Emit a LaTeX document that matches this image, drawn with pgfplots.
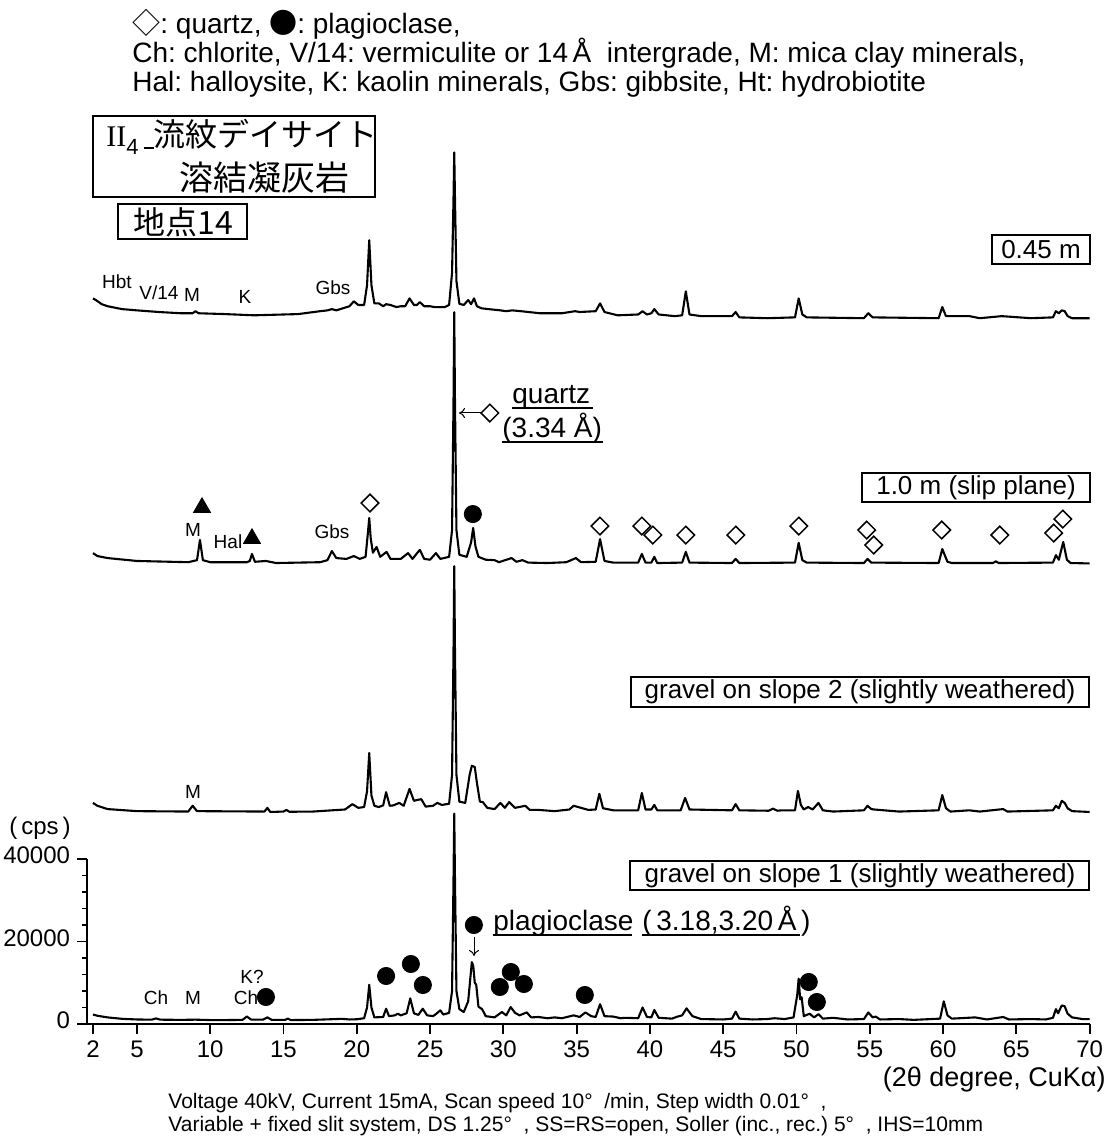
\documentclass[border=0pt]{standalone}
\usepackage{pgfplots}
\pgfplotsset{compat=1.18}
\usepackage{pgfplotstable}
\usepackage{fontspec}
\setmainfont{Liberation Sans}
\newfontfamily\jp{Noto Sans CJK JP}
\newfontfamily\serif{Liberation Serif}
\usetikzlibrary{arrows.meta}
\frenchspacing

% gravel on slope 1 (absolute cps)
\pgfplotstableread{
x y
2.0 2300
2.3 2000
3.0 1600
4.0 1250
5.0 1100
6.0 1050
6.3 1350
6.6 1050
8.0 1000
9.0 1050
10.0 950
11.0 950
12.2 1000
12.5 1800
12.8 1050
13.6 1050
13.9 1600
14.2 1000
15.1 1000
15.3 1300
15.5 950
17.0 1000
19.0 1250
19.5 1100
20.0 1150
20.5 1400
20.7 4000
20.85 9500
21.0 4000
21.2 1600
21.8 1700
22.0 3700
22.2 1900
22.6 2100
22.8 2500
23.0 2100
23.4 2600
23.65 6200
23.9 2600
24.2 2200
24.5 3700
24.8 2100
25.2 1900
25.4 2400
25.7 3300
25.9 2300
26.3 2700
26.5 8000
26.6 35000
26.65 51000
26.7 35000
26.8 8000
27.0 3600
27.3 2900
27.6 5500
27.85 15000
27.95 14000
28.05 10000
28.15 9500
28.3 4200
28.55 3600
28.8 1900
29.4 1600
29.9 2900
30.2 2100
30.5 4100
30.8 2700
31.1 2100
31.6 2800
31.9 1600
32.4 1700
33.0 1400
33.5 1600
34.0 1400
34.8 2100
35.2 1700
35.6 2800
36.0 1900
36.3 1700
36.6 4800
36.9 1900
37.5 1800
38.0 1400
38.3 1500
39.2 1400
39.5 4000
39.8 1700
40.1 1600
40.3 3400
40.6 1500
41.5 1300
41.8 1700
42.2 2100
42.5 3800
42.9 1900
43.5 1200
45.0 1100
45.6 1300
45.85 3000
46.1 1300
47.0 1100
48.0 1200
48.5 1400
49.2 1200
49.8 1600
50.05 7000
50.15 11000
50.25 6000
50.35 6500
50.5 1900
50.9 2500
51.2 1600
51.5 2400
51.8 1300
52.5 1500
53.5 1100
54.6 1200
54.9 2800
55.2 1600
55.4 1800
55.7 1100
57.0 1200
58.0 1000
59.8 1300
60.05 5500
60.3 2100
60.6 1300
62.2 1600
63.0 1100
64.1 1700
64.5 1100
66.0 1200
67.0 1100
67.5 1500
67.7 3600
67.85 2600
68.1 4500
68.3 4300
68.5 2500
68.8 1600
69.5 1200
70.0 1200
}\slopeone

% gravel on slope 2 (raw cps, drawn with offset)
\pgfplotstableread{
x y
2.0 3200
2.3 2500
3.0 1700
5.0 1200
8.5 1100
8.8 2500
9.1 1200
13.7 1100
13.9 2000
14.1 1000
15.0 1100
15.2 1500
15.4 1050
17.0 1100
19.2 1600
19.7 2900
20.1 2000
20.5 2200
20.7 6000
20.85 15300
21.0 5000
21.2 2500
21.5 2200
21.8 2600
22.0 5800
22.25 2500
22.5 2600
22.9 3200
23.2 2500
23.6 6600
23.9 3700
24.1 3900
24.4 4100
24.7 2300
25.2 2500
25.5 3200
25.8 2700
26.3 3000
26.5 10000
26.6 40000
26.65 60600
26.7 40000
26.8 10000
27.0 3500
27.4 3200
27.7 10000
27.85 12200
28.05 11900
28.2 8000
28.4 3500
28.6 3400
28.9 2000
29.4 1700
29.8 3200
30.1 2000
30.4 3400
30.8 2000
31.5 2500
31.8 1500
32.4 1500
33.5 1200
34.5 1600
34.8 2500
35.3 2000
35.8 1500
36.3 1600
36.55 5400
36.8 1900
37.5 1400
39.2 1400
39.45 5600
39.7 1600
40.1 1600
40.3 2700
40.5 1400
42.1 1400
42.4 4400
42.7 1600
45.6 1400
45.85 2900
46.1 1400
48.1 1300
48.4 1800
48.7 1300
49.0 1400
49.9 1400
50.1 6100
50.3 2700
50.5 1600
50.8 2200
51.1 1600
51.5 3200
51.8 1400
52.5 1100
54.6 1400
54.85 2500
55.1 1700
55.3 1600
57.0 1100
59.7 1400
59.95 5100
60.2 1900
60.5 1100
61.8 1400
62.5 1100
64.1 1700
64.4 1100
67.5 1400
67.7 2500
67.9 1900
68.1 3700
68.3 3200
68.5 1900
68.8 1200
70.0 1000
}\slopetwo

% 1.0 m (slip plane)
\pgfplotstableread{
x y
2.0 3400
2.3 2700
3.0 2200
5.0 1500
8.5 1200
9.1 1700
9.3 6600
9.5 1700
10.0 1200
12.5 1200
12.7 1500
12.85 3200
13.05 1300
13.8 1500
14.5 1000
17.5 1200
18.0 1700
18.3 3900
18.6 2200
19.3 2000
19.8 2700
20.2 2000
20.6 2500
20.75 8000
20.85 11900
20.95 7000
21.1 3500
21.35 4900
21.6 2500
22.03 3700
22.3 2000
23.0 2000
23.5 3400
23.8 2000
24.3 4200
24.6 2000
25.0 1800
25.4 3400
25.7 2000
26.3 2500
26.5 9000
26.6 40000
26.65 61800
26.7 40000
26.8 9000
27.0 3000
27.5 2500
27.8 6000
27.94 9500
28.1 5000
28.3 2500
28.8 1800
29.4 1700
29.7 1200
30.56 2200
30.9 1300
31.3 1700
31.7 1100
33.0 1000
34.3 1200
34.95 2200
35.3 1200
36.3 1300
36.6 6800
36.9 1500
37.5 1100
39.2 1100
39.45 3200
39.7 1100
40.1 1100
40.3 2500
40.5 1000
42.2 1100
42.45 3700
42.7 1100
45.6 1000
45.85 2000
46.1 1000
49.9 1100
50.15 5900
50.4 1700
50.7 1100
54.6 1000
54.85 2000
55.1 1100
59.7 1000
59.95 4400
60.3 1300
60.6 1000
63.4 1000
63.6 1400
63.8 1000
67.5 1100
67.7 2900
67.9 1800
68.2 6100
68.45 1800
68.7 1000
70.0 900
}\slipplane

% 0.45 m
\pgfplotstableread{
x y
2.0 5800
2.2 5400
2.6 4400
3.0 3900
4.0 3200
5.0 2900
6.5 2500
8.0 2200
8.8 2200
9.0 2700
9.2 2200
11.0 2000
13.0 1700
16.0 2000
17.5 2700
18.0 2900
18.3 3200
18.6 2900
19.5 3900
19.8 5100
20.1 4200
20.5 4200
20.7 9000
20.85 19900
21.0 9000
21.2 4600
21.5 4600
21.8 3900
22.0 4400
22.3 4200
22.7 3700
23.0 3900
23.3 3900
23.6 5800
23.9 4200
24.1 4200
24.3 4900
24.6 3900
25.0 3900
25.3 3700
26.0 3700
26.3 4200
26.5 12000
26.6 30000
26.65 41200
26.7 30000
26.8 10000
27.0 4500
27.3 4200
27.6 5400
27.8 4400
28.0 5800
28.2 3900
28.5 3400
29.0 3200
29.8 2900
30.2 2700
30.6 2900
31.2 2700
32.5 2200
34.0 2200
34.9 2700
35.2 2500
36.3 2700
36.6 4600
36.9 2500
37.8 1700
39.2 1900
39.5 2700
39.8 1900
40.1 2200
40.3 3200
40.6 1900
41.7 1500
42.2 1700
42.45 7500
42.7 1900
43.5 1500
45.6 1500
45.85 2500
46.1 1200
48.0 1000
49.9 1200
50.15 5800
50.4 1900
50.7 1200
54.6 1000
54.9 2200
55.2 1200
59.7 1000
59.95 3700
60.2 1500
61.8 1500
62.5 1000
64.0 1500
66.0 1000
67.5 1200
67.7 2700
67.9 2200
68.1 2900
68.3 2700
68.5 1500
68.8 1000
70.0 1000
}\fortyfive

\begin{document}
\begin{tikzpicture}
\useasboundingbox (0,0) rectangle (556pt,570pt);
\begin{axis}[
  at={(43.55pt,58pt)}, anchor=south west,
  scale only axis, width=501.25pt, height=82.5pt,
  xmin=1.6, xmax=70, ymin=0, ymax=40000,
  axis x line*=bottom, axis y line*=left,
  axis line style={line width=1pt, black},
  clip=false,
  xtick={2,5,10,...,70},
  ytick={0,20000,40000},
  minor y tick num=4,
  tick align=outside,
  major tick length=5pt, minor tick length=2.4pt,
  every tick/.style={line width=0.9pt, black},
  scaled y ticks=false,
  typeset ticklabels with strut,
  /pgf/number format/assume math mode=true,
  /pgf/number format/1000 sep={},
  xticklabel style={font=\fontsize{12}{12}\selectfont},
  yticklabel style={font=\fontsize{12}{12}\selectfont},
]
\addplot[black, line width=1.05pt, line join=round] table[x=x, y=y] {\slopeone};
\addplot[black, line width=1.05pt, line join=round] table[x=x, y expr=\thisrow{y}+50400] {\slopetwo};
\addplot[black, line width=1.05pt, line join=round] table[x=x, y expr=\thisrow{y}+110750] {\slipplane};
\addplot[black, line width=1.05pt, line join=round] table[x=x, y expr=\thisrow{y}+170100] {\fortyfive};

% plagioclase (filled circles)
\addplot[only marks, mark=*, mark size=4.3pt, black] coordinates {
(13.80,6545) (22.00,11635) (23.69,14544) (24.51,9454) (27.99,23998)
(29.76,8969) (30.51,12605) (31.40,9696) (35.56,7030) (50.84,10181)
(51.39,5333) (27.92,123624)};
% halloysite (filled triangles)
\addplot[only marks, mark=triangle*, mark size=4.9pt, black] coordinates {
(9.44,125200) (12.85,117685)};
% quartz (open diamonds)
\addplot[only marks, mark=square, mark size=3.1pt,
  mark options={rotate=45, line width=0.75pt, black, fill=white}] coordinates {
(20.90,126290) (36.59,120715) (39.45,120715) (40.20,118534) (42.45,118534)
(45.86,118534) (50.16,120715) (54.79,119746) (55.27,116110) (59.91,119746)
(63.87,118534) (67.55,119018) (68.17,122412) (29.08,148106)};
\end{axis}

\begin{scope}[x=0.5pt, y=-0.5pt, yshift=570pt]
% top legend text
\node[anchor=base west, inner sep=0, font=\fontsize{14}{16}\selectfont] at (132,34)
  {{\jp ◇}: quartz, {\jp ●}: plagioclase,};
\node[anchor=base west, inner sep=0, font=\fontsize{14}{16}\selectfont] at (132,63)
  {Ch: chlorite, V/14: vermiculite or 14\,Å\ \ intergrade, M: mica clay minerals,};
\node[anchor=base west, inner sep=0, font=\fontsize{14}{16}\selectfont] at (132,92)
  {Hal: halloysite, K: kaolin minerals, Gbs: gibbsite, Ht: hydrobiotite};

% title boxes
\draw[line width=0.8pt] (93,116) rectangle (375,197);
\node[anchor=west, inner sep=0] at (106,137)
  {{\serif\fontsize{15}{15}\selectfont II}\raisebox{-4pt}{\fontsize{11}{11}\selectfont 4}\hspace{2.5pt}\rule[-1pt]{5pt}{0.8pt}{\jp\fontsize{16}{16}\selectfont 流紋デイサイト}};
\node[inner sep=0, font=\jp\fontsize{17}{17}\selectfont] at (264,178) {溶結凝灰岩};
\draw[line width=0.8pt] (118,204) rectangle (247,239);
\node[inner sep=0, font=\jp\fontsize{16}{16}\selectfont] at (183,222) {地点14};

% sample boxes
\draw[line width=0.8pt] (992,235) rectangle (1090,264);
\node[inner sep=0, font=\fontsize{13}{14}\selectfont] at (1041,250) {0.45 m};
\draw[line width=0.8pt] (862,473) rectangle (1090,502);
\node[inner sep=0, font=\fontsize{13}{14}\selectfont] at (976,488) {1.0 m (slip plane)};
\draw[line width=0.8pt] (631,677) rectangle (1089,707);
\node[inner sep=0, font=\fontsize{13}{14}\selectfont] at (860,692) {gravel on slope 2 (slightly weathered)};
\draw[line width=0.8pt] (630,861) rectangle (1089,890);
\node[inner sep=0, font=\fontsize{13}{14}\selectfont] at (860,876) {gravel on slope 1 (slightly weathered)};

% quartz annotation
\draw[line width=0.5pt, -{To[length=3pt,width=5pt]}] (481,413) -- (459,413);
\node[anchor=base west, inner sep=0, font=\fontsize{14}{15}\selectfont] at (512,404) {quartz};
\draw[line width=0.6pt] (512,408) -- (593,408);
\node[anchor=base west, inner sep=0, font=\fontsize{14}{15}\selectfont] at (502,438) {(3.34 Å)};
\draw[line width=0.6pt] (502,442) -- (603,442);

% plagioclase annotation
\draw[line width=0.5pt, -{To[length=3pt,width=5pt]}] (474,937) -- (474,956);
\node[anchor=base west, inner sep=0, font=\fontsize{14}{15}\selectfont] at (493,931) {plagioclase};
\draw[line width=0.6pt] (493,935) -- (632,935);
\node[anchor=base west, inner sep=0, font=\fontsize{14}{15}\selectfont] at (642,931) {(\,3.18,3.20\,Å\,)};
\draw[line width=0.6pt] (642,935) -- (800,935);

% mineral labels
\begin{scope}[every node/.style={inner sep=0, font=\fontsize{9.5}{10}\selectfont}]
\node at (156,998) {Ch};
\node at (193,998) {M};
\node at (252,977) {K?};
\node at (246,998) {Ch};
\node at (193,792) {M};
\node at (193,530) {M};
\node at (228,542) {Hal};
\node at (332,532) {Gbs};
\node at (117,282) {Hbt};
\node at (159,293) {V/14};
\node at (192,295) {M};
\node at (245,297) {K};
\node at (333,288) {Gbs};
\end{scope}

% axis texts
\node[inner sep=0, font=\fontsize{12}{13}\selectfont] at (40,828) {(\,cps\,)};
\node[anchor=east, inner sep=0, font=\fontsize{13.5}{14}\selectfont] at (1106,1080) {(2θ degree, CuKα)};
\node[anchor=base west, inner sep=0, font=\fontsize{10.5}{11}\selectfont] at (168,1108)
  {Voltage 40kV, Current 15mA, Scan speed 10°\ \ /min, Step width 0.01°\ \ ,};
\node[anchor=base west, inner sep=0, font=\fontsize{10.5}{11}\selectfont] at (168,1131)
  {Variable + fixed slit system, DS 1.25°\ \ , SS=RS=open, Soller (inc., rec.) 5°\ \ , IHS=10mm};
\end{scope}
\end{tikzpicture}
\end{document}
